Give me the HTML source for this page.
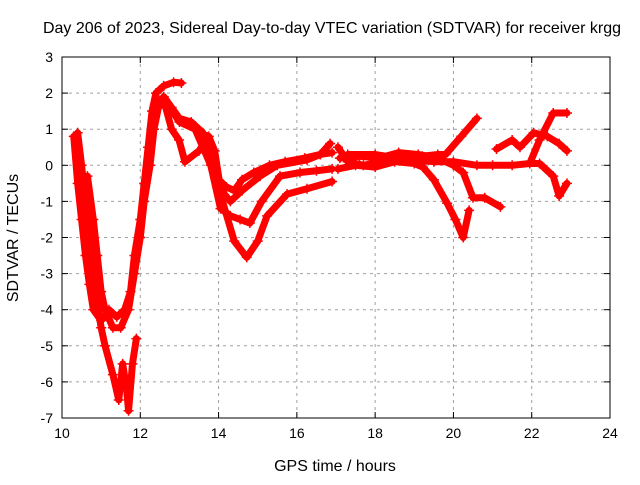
<!DOCTYPE html>
<html><head><meta charset="utf-8"><style>
body{margin:0;background:#fff}
svg{font-family:"Liberation Sans",sans-serif;font-size:14px}
.big{font-size:16px}
</style></head><body>
<svg id="chart" width="640" height="480" viewBox="0 0 640 480">
<text class="big" x="332" y="33" text-anchor="middle" textLength="578" lengthAdjust="spacingAndGlyphs">Day 206 of 2023, Sidereal Day-to-day VTEC variation (SDTVAR) for receiver krgg</text>
<text class="big" transform="translate(18,238) rotate(-90)" text-anchor="middle">SDTVAR / TECUs</text>
<text class="big" x="335" y="471" text-anchor="middle">GPS time / hours</text>
<g id="grid"></g><g id="axes"></g><g id="series"></g>
</svg>
<script>
const xTicks=[10,12,14,16,18,20,22,24];
const yTicks=[3,2,1,0,-1,-2,-3,-4,-5,-6,-7];
const track1=[[10.3,0.8],[10.4,-0.5],[10.5,-1.5],[10.6,-2.5],[10.7,-3.3],[10.8,-4],[11.0,-4.3],[11.2,-4.0],[11.4,-4.2],[11.6,-4.0],[11.75,-3.5],[11.85,-2.5],[12.0,-1.5],[12.1,-0.5],[12.2,0.5],[12.3,1.5],[12.4,2.0],[12.6,2.2],[12.85,2.3],[13.05,2.28]];
const track2=[[10.4,0.9],[10.5,0],[10.6,-1],[10.7,-2],[10.8,-3],[10.9,-3.8],[11.0,-4.5],[11.1,-5],[11.3,-5.8],[11.45,-6.5],[11.55,-5.5],[11.65,-6.2],[11.7,-6.8],[11.8,-5.5],[11.9,-4.8]];
const track3=[[10.45,-0.5],[10.65,-0.3],[10.8,-1.5],[10.9,-2.5],[11.0,-3.5],[11.1,-4],[11.3,-4.5],[11.5,-4.5],[11.7,-4],[11.85,-3],[12.0,-2],[12.1,-1],[12.25,0],[12.35,1],[12.5,1.8],[12.65,1.6],[12.8,1.0],[12.99,0.7],[13.14,0.1],[13.5,0.4],[13.75,0.8],[13.9,0.4],[14.1,-1.0],[14.4,-2.1],[14.72,-2.55],[15.0,-2.1],[15.24,-1.4],[15.75,-0.8],[16.26,-0.65],[16.9,-0.45]];
const track4=[[12.6,1.9],[12.8,1.6],[13.0,1.3],[13.3,1.2],[13.6,0.9],[13.8,0.2],[14.0,-0.4],[14.2,-0.6],[14.4,-0.7],[14.6,-0.4],[14.9,-0.2],[15.3,0],[15.7,0.1],[16.2,0.2],[16.6,0.3],[16.9,0.35]];
const track5=[[12.7,1.7],[13.0,1.2],[13.4,1.0],[13.8,0],[14.05,-1.2],[14.3,-1.4],[14.55,-1.5],[14.8,-1.6],[15.1,-1.0],[15.57,-0.3],[16.08,-0.2],[16.5,-0.15],[16.9,-0.1]];
const track6=[[14.0,-0.6],[14.3,-1.0],[14.6,-0.7],[15.06,-0.3],[15.5,0],[16.26,0.15],[16.6,0.3],[16.85,0.6]];
const track7=[[17.05,0.5],[17.3,0.1],[17.7,0.0],[18.2,0.1],[18.7,0.2],[19.2,0.25],[19.6,0.3],[19.8,0.3],[20.2,0.8],[20.6,1.3]];
const track8=[[17.05,-0.1],[17.5,0.0],[18.0,-0.05],[18.5,0.1],[19.0,0.05],[19.22,-0.05],[19.5,-0.4],[19.84,-1.05],[20.05,-1.5],[20.25,-2.0],[20.4,-1.25]];
const track9=[[17.1,0.2],[17.6,0.25],[18.1,0.2],[18.6,0.35],[19.1,0.3],[19.6,0.2],[20.0,0.0],[20.25,-0.2],[20.5,-0.9],[20.8,-0.9],[21.2,-1.15]];
const track10=[[17.3,0.3],[18.0,0.3],[18.8,0.15],[19.5,0.1],[20.0,0.1],[20.6,0.0],[21.0,0.0],[21.5,0.0],[21.95,0.05],[22.2,0.05],[22.55,-0.3],[22.7,-0.85],[22.9,-0.5]];
const track11=[[21.1,0.45],[21.5,0.7],[21.7,0.5],[22.05,0.9],[22.4,0.8],[22.7,0.6],[22.9,0.4]];
const track12=[[21.95,0.05],[22.2,0.7],[22.55,1.45],[22.9,1.45]];
const tracks=[track1,track2,track3,track4,track5,track6,track7,track8,track9,track10,track11,track12];
const X0=62,X1=610,Y0=57,Y1=418;
const xs=t=>X0+(t-10)/14*(X1-X0);
const ys=v=>Y0+(3-v)/10*(Y1-Y0);
const NS='http://www.w3.org/2000/svg';
const mk=(tag,at,p)=>{const e=document.createElementNS(NS,tag);for(const k in at)e.setAttribute(k,at[k]);p.appendChild(e);return e;};
const grid=document.getElementById('grid'),axes=document.getElementById('axes'),ser=document.getElementById('series');
xTicks.forEach(t=>{const x=xs(t);
 if(t>10&&t<24){const g=mk('line',{x1:x,x2:x,y1:Y0,y2:Y1,stroke:'#a0a0a0','stroke-dasharray':'3,4'},grid);
 
 }
 mk('line',{x1:x,x2:x,y1:Y1,y2:Y1-6,stroke:'#000'},axes);mk('line',{x1:x,x2:x,y1:Y0,y2:Y0+6,stroke:'#000'},axes);
 const l=mk('text',{x:x,y:Y1+20,'text-anchor':'middle'},axes);l.textContent=t;
 
 });
yTicks.forEach(v=>{const y=ys(v);
 if(v<3&&v>-7){const g=mk('line',{x1:X0,x2:X1,y1:y,y2:y,stroke:'#a0a0a0','stroke-dasharray':'3,4'},grid);
 
 }
 mk('line',{x1:X0,x2:X0+6,y1:y,y2:y,stroke:'#000'},axes);mk('line',{x1:X1,x2:X1-6,y1:y,y2:y,stroke:'#000'},axes);
 const l=mk('text',{x:X0-9,y:y+5,'text-anchor':'end'},axes);l.textContent=v;
 
 });
const frame=mk('rect',{x:X0,y:Y0,width:X1-X0,height:Y1-Y0,fill:'none',stroke:'#000'},axes);


tracks.forEach((tr,i)=>{
 const pl=mk('polyline',{points:tr.map(p=>xs(p[0])+','+ys(p[1])).join(' '),fill:'none',stroke:'#f00','stroke-width':7,'stroke-linejoin':'round','stroke-linecap':'round'},ser);
 
 
 tr.forEach(p=>{const x=xs(p[0]),y=ys(p[1]);
  const m=mk('path',{d:`M${x-5},${y}H${x+5}M${x},${y-5}V${y+5}`,stroke:'#f00','stroke-width':1.5},ser);
  
  });
});
</script>
</body></html>
